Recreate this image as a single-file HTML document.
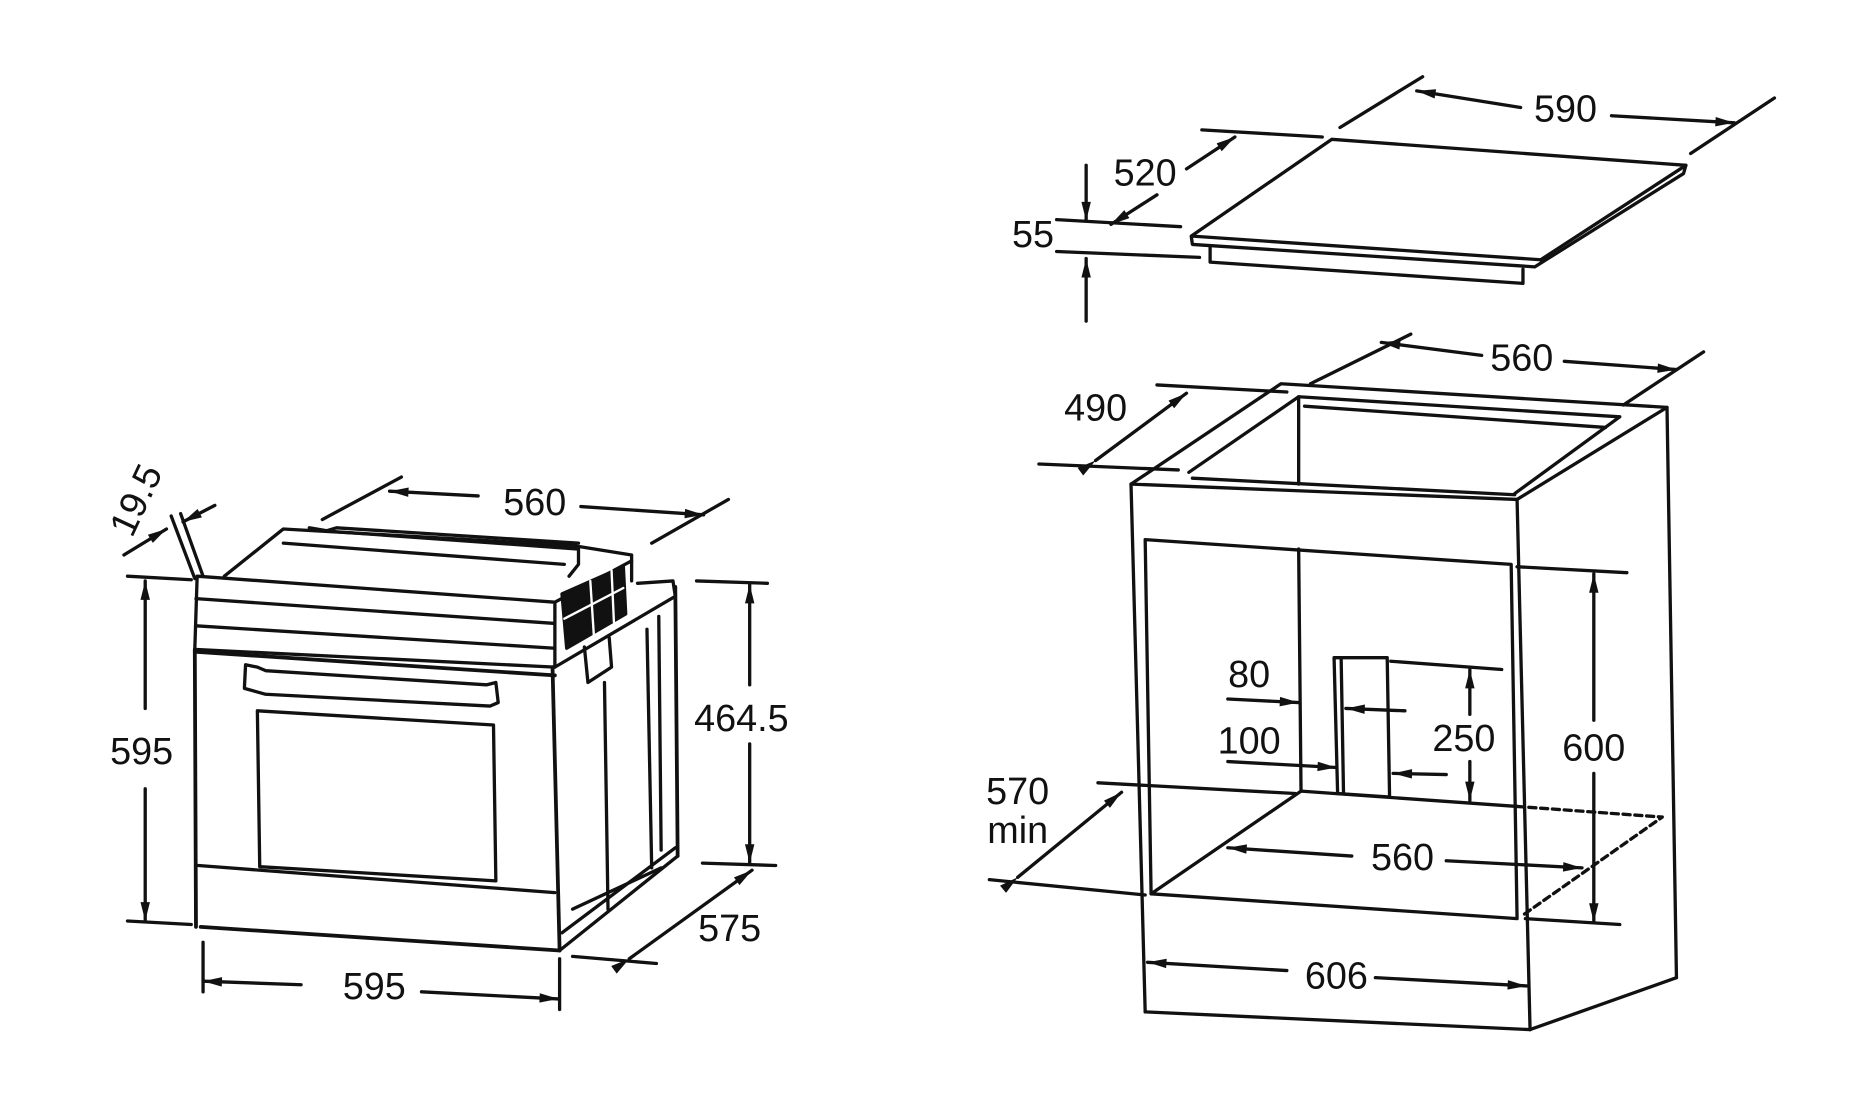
<!DOCTYPE html>
<html><head><meta charset="utf-8"><style>
html,body{margin:0;padding:0;background:#fff;}
svg{display:block;}
text{font-family:"Liberation Sans",Arial,sans-serif;font-size:32px;fill:#111;}
</style></head><body>
<svg width="1850" height="1104" viewBox="0 0 1567 935" preserveAspectRatio="none" xmlns="http://www.w3.org/2000/svg">
<defs>
<marker id="b" viewBox="0 0 20 10" refX="20" refY="5" markerWidth="20" markerHeight="8" orient="auto" markerUnits="userSpaceOnUse"><path d="M0,0 L20,5 L0,10 z" fill="#111"/></marker>
</defs>
<g stroke="#111" stroke-width="2.8" fill="none" stroke-linejoin="round" stroke-linecap="round">
<!-- ===== LEFT OVEN ===== -->
<line x1="145" y1="437" x2="165" y2="490"/><line x1="153" y1="435" x2="172" y2="488"/>
<line x1="105" y1="470" x2="141" y2="448" marker-end="url(#b)"/>
<line x1="182" y1="428" x2="155" y2="442" marker-end="url(#b)"/>
<line x1="273" y1="440" x2="340" y2="404"/><line x1="552" y1="460" x2="617" y2="423"/>
<line x1="405" y1="420" x2="330" y2="416" marker-end="url(#b)"/>
<line x1="492" y1="429" x2="596" y2="436" marker-end="url(#b)"/>
<line x1="108" y1="488" x2="162" y2="491"/><line x1="108" y1="780" x2="162" y2="783"/>
<line x1="123" y1="600" x2="123" y2="492" marker-end="url(#b)"/>
<line x1="123" y1="668" x2="123" y2="780" marker-end="url(#b)"/>
<line x1="590" y1="492" x2="650" y2="494"/><line x1="595" y1="731" x2="657" y2="733"/>
<line x1="635" y1="580" x2="635" y2="495" marker-end="url(#b)"/>
<line x1="635" y1="630" x2="635" y2="731" marker-end="url(#b)"/>
<line x1="485" y1="810" x2="556" y2="816"/>
<line x1="533" y1="812" x2="637" y2="737" marker-start="url(#b)" marker-end="url(#b)"/>
<line x1="172" y1="798" x2="172" y2="840"/><line x1="474" y1="812" x2="474" y2="855"/>
<line x1="255" y1="834" x2="172" y2="831" marker-end="url(#b)"/>
<line x1="357" y1="840" x2="473" y2="846" marker-end="url(#b)"/>
<path d="M167,488 L470,510 L470,565 L165,550 Z"/>
<line x1="166" y1="507" x2="470" y2="528"/>
<line x1="166" y1="530" x2="470" y2="549"/>
<line x1="165" y1="550" x2="166" y2="785" stroke-width="3.2"/>
<line x1="468" y1="565" x2="474" y2="805" stroke-width="3.2"/>
<line x1="170" y1="785" x2="474" y2="805" stroke-width="3.2"/>
<line x1="168" y1="733" x2="470" y2="756"/>
<line x1="165" y1="552" x2="470" y2="572" stroke-width="3.2"/>
<path d="M208,563 L218,565 L225,568 L412,580 L420,578 L422,595 L415,598 L225,588 L207,583 Z"/>
<path d="M218,602 L418,614 L420,746 L220,734 Z"/>
<path d="M190,488 L240,448 L485,462"/>
<path d="M262,447 L280,450 L490,465 L490,478 L482,488"/>
<path d="M275,450 L285,447 L490,460"/>
<line x1="240" y1="460" x2="478" y2="478"/>
<path d="M470,510 L535,475 L535,492"/>
<path d="M485,462 L535,470 L535,475"/>
<path d="M476,503 L480,549 L530,520 L528,480 Z" fill="#111"/>
<line x1="478" y1="524" x2="528" y2="498" stroke="#fff" stroke-width="2"/>
<line x1="500" y1="492" x2="503" y2="538" stroke="#fff" stroke-width="2"/>
<line x1="518" y1="483" x2="520" y2="527" stroke="#fff" stroke-width="2"/>
<path d="M470,565 L572,505 L570,492 L540,494"/>
<line x1="572" y1="497" x2="574" y2="725" stroke-width="3.2"/>
<line x1="474" y1="805" x2="574" y2="725"/>
<line x1="476" y1="790" x2="572" y2="718"/>
<path d="M495,548 L498,578 L518,565 L516,540"/>
<path d="M512,578 L515,770"/><path d="M548,533 L552,735"/><path d="M558,522 L560,720"/>
<line x1="485" y1="770" x2="560" y2="735"/>
<!-- ===== HOB ===== -->
<line x1="1018" y1="110" x2="1120" y2="116"/>
<line x1="1135" y1="108" x2="1205" y2="65"/>
<line x1="1432" y1="130" x2="1503" y2="83"/>
<line x1="1288" y1="91" x2="1200" y2="77" marker-end="url(#b)"/>
<line x1="1365" y1="98" x2="1469" y2="104" marker-end="url(#b)"/>
<line x1="1005" y1="143" x2="1046" y2="116" marker-end="url(#b)"/>
<line x1="980" y1="165" x2="941" y2="190" marker-end="url(#b)"/>
<line x1="895" y1="186" x2="1000" y2="192"/>
<line x1="895" y1="213" x2="1016" y2="218"/>
<line x1="920" y1="140" x2="920" y2="187" marker-end="url(#b)"/>
<line x1="920" y1="272" x2="920" y2="219" marker-end="url(#b)"/>
<path d="M1009,200 L1128,118 L1428,140 L1426,147 L1300,226 L1010,207 Z"/>
<line x1="1010" y1="200" x2="1305" y2="220"/>
<line x1="1305" y1="220" x2="1428" y2="140"/>
<path d="M1025,208 L1025,222 L1290,240 L1290,228"/>
<!-- ===== CABINET ===== -->
<line x1="1110" y1="325" x2="1195" y2="283"/>
<line x1="1375" y1="343" x2="1443" y2="298"/>
<line x1="1255" y1="301" x2="1170" y2="290" marker-end="url(#b)"/>
<line x1="1325" y1="306" x2="1420" y2="313" marker-end="url(#b)"/>
<line x1="980" y1="326" x2="1090" y2="332"/>
<line x1="880" y1="393" x2="998" y2="398"/>
<line x1="928" y1="390" x2="1005" y2="333" marker-start="url(#b)" marker-end="url(#b)"/>
<path d="M958,410 L1085,325 L1412,345 L1285,423 Z"/>
<path d="M1007,400 L1100,336 L1372,353 L1283,418" />
<path d="M1010,405 L1283,419"/>
<path d="M1100,336 L1100,410"/>
<path d="M1105,344 L1360,362"/>
<line x1="958" y1="410" x2="970" y2="857"/>
<line x1="970" y1="857" x2="1296" y2="872"/>
<line x1="1285" y1="423" x2="1296" y2="872"/>
<line x1="1412" y1="345" x2="1420" y2="828"/>
<line x1="1296" y1="872" x2="1420" y2="828"/>
<path d="M970,457 L1280,478 L1285,778 L975,757 Z"/>
<line x1="1100" y1="465" x2="1102" y2="670"/>
<line x1="1102" y1="670" x2="975" y2="757"/>
<line x1="1102" y1="670" x2="1285" y2="683"/>
<path d="M1285,683 L1408,692 L1290,775" stroke-dasharray="6,4"/>
<path d="M1130,557 L1175,557 L1177,675 L1133,672 Z"/>
<line x1="1136" y1="558" x2="1138" y2="672"/>
<line x1="1040" y1="592" x2="1100" y2="595" marker-end="url(#b)"/>
<line x1="1190" y1="602" x2="1140" y2="600" marker-end="url(#b)"/>
<line x1="1040" y1="645" x2="1132" y2="650" marker-end="url(#b)"/>
<line x1="1225" y1="656" x2="1180" y2="655" marker-end="url(#b)"/>
<line x1="1178" y1="560" x2="1272" y2="567"/>
<line x1="1245" y1="605" x2="1245" y2="567" marker-end="url(#b)"/>
<line x1="1245" y1="645" x2="1245" y2="678" marker-end="url(#b)"/>
<line x1="1285" y1="480" x2="1378" y2="485"/>
<line x1="1292" y1="778" x2="1372" y2="783"/>
<line x1="1350" y1="610" x2="1350" y2="486" marker-end="url(#b)"/>
<line x1="1350" y1="655" x2="1350" y2="781" marker-end="url(#b)"/>
<line x1="930" y1="663" x2="1097" y2="672"/>
<line x1="838" y1="745" x2="970" y2="758"/>
<line x1="862" y1="743" x2="950" y2="671" marker-start="url(#b)" marker-end="url(#b)"/>
<line x1="1145" y1="725" x2="1040" y2="718" marker-end="url(#b)"/>
<line x1="1225" y1="729" x2="1340" y2="735" marker-end="url(#b)"/>
<line x1="1090" y1="822" x2="972" y2="815" marker-end="url(#b)"/>
<line x1="1165" y1="828" x2="1293" y2="835" marker-end="url(#b)"/>
</g>
<g>
<text x="125" y="428" transform="rotate(-65 125 428)" text-anchor="middle">19.5</text>
<text x="453" y="436" text-anchor="middle">560</text>
<text x="120" y="647" text-anchor="middle">595</text>
<text x="628" y="619" text-anchor="middle">464.5</text>
<text x="618" y="797" text-anchor="middle">575</text>
<text x="317" y="846" text-anchor="middle">595</text>
<text x="1326" y="103" text-anchor="middle">590</text>
<text x="970" y="157" text-anchor="middle">520</text>
<text x="875" y="209" text-anchor="middle">55</text>
<text x="1289" y="314" text-anchor="middle">560</text>
<text x="928" y="356" text-anchor="middle">490</text>
<text x="1058" y="582" text-anchor="middle">80</text>
<text x="1058" y="638" text-anchor="middle">100</text>
<text x="1240" y="636" text-anchor="middle">250</text>
<text x="1350" y="644" text-anchor="middle">600</text>
<text x="862" y="681" text-anchor="middle">570</text>
<text x="862" y="714" text-anchor="middle">min</text>
<text x="1188" y="737" text-anchor="middle">560</text>
<text x="1132" y="837" text-anchor="middle">606</text>
</g>
</svg>
</body></html>
